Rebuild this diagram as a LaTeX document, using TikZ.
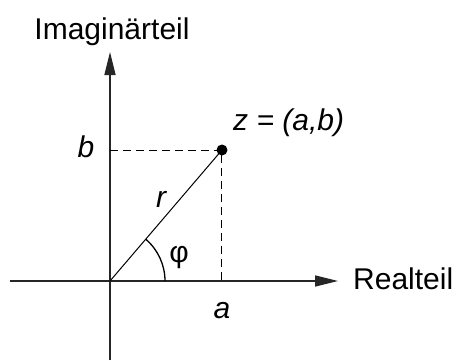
\documentclass[tikz,border=0pt]{standalone}
\usepackage{fontspec}
\setmainfont{Liberation Sans}
\usetikzlibrary{arrows.meta}

\begin{document}
\begin{tikzpicture}[x=1pt, y=1pt, every node/.style={font=\fontsize{30}{35}\selectfont, inner sep=0pt},
    axis/.style={line width=1.4pt, draw=black!85, -{Triangle[length=23pt,width=11pt]}},
    helpline/.style={line width=1pt, dash pattern=on 8pt off 5pt}]
    \useasboundingbox (-110,-79) rectangle (346,281);
    \coordinate (O) at (0,0);
    \coordinate (P) at (112,131);
    \coordinate (xs) at (-100,0);
    \coordinate (xe) at (228,0);
    \coordinate (ys) at (0,-79);
    \coordinate (ye) at (0,229);
    \coordinate (Pa) at (112,0);
    \coordinate (Pb) at (0,131);
    \draw[axis] (xs) -- (xe);
    \draw[axis] (ys) -- (ye);
    \draw[helpline] (Pb) -- (P) -- (Pa);
    \draw[line width=1pt] (O) -- (P);
    \draw[line width=1.3pt] (55,0) arc[start angle=0, end angle=49.5, radius=55];
    \fill (P) circle (5.5);
    \node[anchor=base] (im) at (2,242) {Imaginärteil};
    \node[anchor=base west] (re) at (243,-8) {Realteil};
    \node[anchor=base] (lb) at (-24,124) {\itshape b};
    \node[anchor=base] (la) at (112,-37) {\itshape a};
    \node[anchor=base] (lr) at (51,74) {\itshape r};
    \node[anchor=base] (lphi) at (69,19) {φ};
    \node[anchor=base west] (lz) at (123,151) {\itshape z = (a,b)};
  \end{tikzpicture}
\end{document}
